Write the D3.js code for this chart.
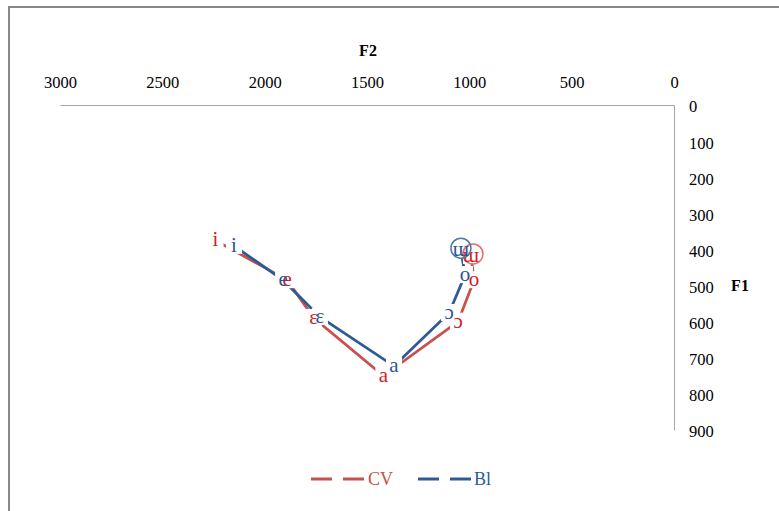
<!DOCTYPE html>
<html><head><meta charset="utf-8">
<script src="https://cdn.jsdelivr.net/npm/d3@7/dist/d3.min.js"></script>
<style>body{margin:0;background:#fff}svg{display:block}text{font-family:"Liberation Serif","Times New Roman",serif}</style>
</head><body><svg id="c" width="779" height="511"></svg>
<script>
const vowels = ["i","e","ɛ","a","ɔ","o","ɯ"];
const cvF2 = [2240, 1890, 1760, 1420, 1055, 977, 992];
const cvF1 = [375, 485, 590, 750, 600, 485, 418];
const blF2 = [2150, 1910, 1730, 1368, 1099, 1021, 1041];
const blF1 = [390, 485, 587, 723, 576, 471, 402];
const f2Ticks = [3000, 2500, 2000, 1500, 1000, 500, 0];
const f1Ticks = [0, 100, 200, 300, 400, 500, 600, 700, 800, 900];
const seriesNames = ["CV", "Bl"];

const series = [
  {name: seriesNames[0], f2: cvF2, f1: cvF1, line: "#C8504D", text: "#D42020"},
  {name: seriesNames[1], f2: blF2, f1: blF1, line: "#2D5B96", text: "#2D5494"}
];

const svg = d3.select("#c");
svg.append("rect").attr("x",9).attr("y",7).attr("width",800).attr("height",540)
  .attr("fill","none").attr("stroke","#888").attr("stroke-width",2);

const x = d3.scaleLinear().domain([3000,0]).range([60,674]);
const y = d3.scaleLinear().domain([0,900]).range([105,430]);

// top axis
const xa = svg.append("g").attr("transform","translate(0,105)")
  .call(d3.axisTop(x).tickValues(f2Ticks).tickSize(0).tickPadding(17).tickFormat(d3.format("d")));
xa.attr("font-family",null);
xa.select(".domain").attr("stroke","#A6A6A6");
xa.selectAll("text").attr("font-size",16.5).attr("fill","#000");

// right axis
const ya = svg.append("g").attr("transform","translate(674,0)")
  .call(d3.axisRight(y).tickValues(f1Ticks).tickSize(0).tickPadding(15).tickFormat(d3.format("d")));
ya.attr("font-family",null);
ya.select(".domain").attr("stroke","#A6A6A6");
ya.selectAll("text").attr("font-size",16.5).attr("fill","#000").attr("dy","0.42em");

svg.append("text").attr("x",368).attr("y",56).attr("text-anchor","middle")
  .attr("font-size",16).attr("font-weight","bold").text("F2");
svg.append("text").attr("x",740).attr("y",291).attr("text-anchor","middle")
  .attr("font-size",16).attr("font-weight","bold").text("F1");

const line = d3.line().x(d=>x(d[0])).y(d=>y(d[1]));
series.forEach(s=>{
  const pts = s.f2.map((v,i)=>[v, s.f1[i]]);
  svg.append("path").attr("d", line(pts)).attr("fill","none")
    .attr("stroke", s.line).attr("stroke-width",2.8);
});

// white boxes behind all labels first
series.forEach(s=>{
  s.f2.forEach((v,i)=>{
    const px = x(v), py = y(s.f1[i]);
    svg.append("rect").attr("x",px-8).attr("y",py-9).attr("width",16).attr("height",17).attr("fill","#fff");
  });
});
// then circles and texts
series.forEach((s,si)=>{
  s.f2.forEach((v,i)=>{
    const px = x(v), py = y(s.f1[i]);
    if (vowels[i]==="ɯ") {
      svg.append("circle").attr("cx",px+(si===0?2:0)).attr("cy",py-2).attr("r",10)
        .attr("fill","none").attr("stroke", si===0?"#E07070":"#4F75A8").attr("stroke-width",1.5);
    }
    svg.append("text").attr("x",px).attr("y",py+6).attr("text-anchor","middle")
      .attr("font-size",21).attr("fill",s.text).text(vowels[i]);
  });
});

// legend
const leg = [{x0:311, tx:368}, {x0:418, tx:474}];
series.forEach((s,i)=>{
  svg.append("line").attr("x1",leg[i].x0).attr("x2",leg[i].x0+53).attr("y1",479).attr("y2",479)
    .attr("stroke",s.line).attr("stroke-width",3).attr("stroke-dasharray","21,11");
  svg.append("text").attr("x",leg[i].tx).attr("y",485).attr("font-size",18)
    .attr("fill",s.line).text(s.name);
});
</script></body></html>
